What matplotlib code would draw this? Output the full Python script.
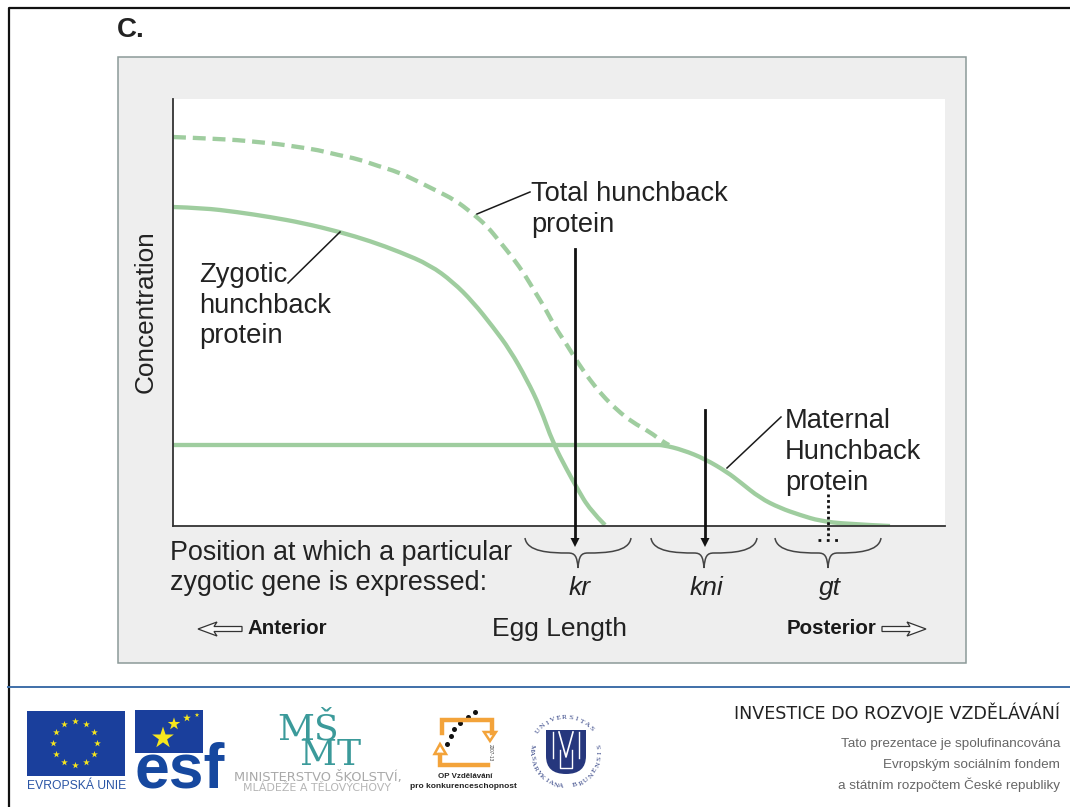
import numpy as np
import matplotlib
matplotlib.use("Agg")
import matplotlib.pyplot as plt
from matplotlib.patches import Rectangle, Polygon, PathPatch
from matplotlib.path import Path

plt.rcParams['font.family'] = ['Liberation Sans', 'DejaVu Sans']

# Curves: position along egg, concentration
total_x = [0, 24, 44, 64, 84, 105, 125, 145, 165, 185, 205, 225, 244, 262, 282, 299, 314, 327, 340, 352, 362, 372, 382, 394, 405, 417, 429, 444, 459, 477, 490, 496]
total_y = [389, 388, 387, 386, 384, 382, 379, 376, 371, 367, 360, 354, 345, 336, 326, 313, 300, 284, 268, 251, 234, 218, 199, 181, 163, 146, 131, 116, 104, 94, 84, 81]
zyg_x = [0, 30, 64, 97, 130, 167, 197, 227, 257, 280, 300, 320, 337, 354, 367, 380, 394, 404, 417, 432]
zyg_y = [319, 318, 314, 309, 303, 294, 285, 274, 261, 244, 224, 199, 176, 146, 119, 83, 56, 38, 16, 1]
mat_x = [0, 150, 300, 440, 482, 490, 510, 532, 554, 567, 587, 607, 627, 647, 674, 717]
mat_y = [81, 81, 81, 81, 81, 81, 76, 67, 54, 44, 28, 18, 11, 5, 2, 0]

gene_labels = ['kr', 'kni', 'gt']
gene_centers = [405, 531, 655]

W, H = 1070, 807
fig = plt.figure(figsize=(W/100, H/100), dpi=100, facecolor='white')

bg = fig.add_axes([0, 0, 1, 1])
bg.set_xlim(0, W); bg.set_ylim(H, 0); bg.axis('off')

# slide border and panel
bg.plot([8.5, 8.5, W], [H, 7.5, 7.5], color='#111111', lw=1.6)
bg.plot([8, W], [686.5, 686.5], color='#3f6fa8', lw=1.4)
bg.add_patch(Rectangle((118, 57), 848, 606, fc='#eeeeee', ec='#8c9a98', lw=1.1))
bg.text(117, 30, 'C.', fontsize=20, fontweight='bold', color='#222222', va='center')

# data axes
ax = fig.add_axes([173/W, 1-526/H, 772/W, 427/H], zorder=2)
ax.set_xlim(0, 772); ax.set_ylim(0, 427)
ax.set_facecolor('white')
for s in ['top', 'right']:
    ax.spines[s].set_visible(False)
for s in ['left', 'bottom']:
    ax.spines[s].set_color('#333333'); ax.spines[s].set_linewidth(1.3)
ax.set_xticks([]); ax.set_yticks([])
GREEN = '#9fcd9f'

def curve(xs, ys, **kw):
    pts = np.column_stack([xs, ys])
    verts = [pts[0]]; codes = [Path.MOVETO]
    for i in range(1, len(pts) - 1):
        end = (pts[i] + pts[i+1]) / 2 if i < len(pts) - 2 else pts[-1]
        verts += [pts[i], end]; codes += [Path.CURVE3, Path.CURVE3]
    ax.add_patch(PathPatch(Path(verts, codes), fc='none', ec=GREEN, lw=3.1, capstyle='butt', **kw))

curve(total_x, total_y, ls=(0, (3.0, 1.6)))
curve(zyg_x, zyg_y)
curve(mat_x, mat_y)

# overlay
ov = fig.add_axes([0, 0, 1, 1], zorder=3)
ov.set_xlim(0, W); ov.set_ylim(H, 0); ov.axis('off'); ov.patch.set_alpha(0)
TC = '#222222'
ov.text(146, 312, 'Concentration', rotation=90, ha='center', va='center', fontsize=18.8, color=TC)
for x, y, s, fs in [(199, 275, 'Zygotic', 19.7), (199, 306, 'hunchback', 19.7), (199, 336, 'protein', 19.7),
                    (531, 194, 'Total hunchback', 19.6), (531, 225, 'protein', 19.6),
                    (785, 421, 'Maternal', 19.6), (785, 452, 'Hunchback', 19.6), (785, 483, 'protein', 19.6),
                    (170, 553, 'Position at which a particular', 19.4),
                    (170, 583, 'zygotic gene is expressed:', 19.4)]:
    ov.text(x, y, s, fontsize=fs, color=TC, va='center')
ov.text(559, 629, 'Egg Length', fontsize=19, color=TC, va='center', ha='center')
ov.text(287, 629, 'Anterior', fontsize=14.8, fontweight='bold', color='#1a1a1a', va='center', ha='center')
ov.text(831, 629, 'Posterior', fontsize=14.8, fontweight='bold', color='#1a1a1a', va='center', ha='center')

# leader lines
for xs, ys in [([288, 340], [283, 232]), ([477, 530], [214, 192]), ([727, 781], [468, 417])]:
    ov.plot(xs, ys, color='#1a1a1a', lw=1.1)

# arrows
for x, y0, y1 in [(575, 249, 547), (705, 410, 547)]:
    ov.plot([x, x], [y0, y1-8], color='#111111', lw=2.0)
    ov.add_patch(Polygon([[x-4.5, y1-9], [x+4.5, y1-9], [x, y1]], fc='#111111', ec='none'))
ov.plot([828, 828], [494, 537], color='#111111', lw=2, ls=(0, (1, 1)))
ov.plot([818, 842], [540, 540], color='#111111', lw=2, ls=(0, (1, 2)))

# braces
for c, lab in zip(gene_centers, gene_labels):
    cx = 173 + c
    verts = [(cx-53, 538), (cx-51, 552), (cx-28, 553), (cx-10, 553),
             (cx-3, 553), (cx-1, 556), (cx, 568),
             (cx+1, 556), (cx+3, 553), (cx+10, 553),
             (cx+28, 553), (cx+51, 552), (cx+53, 538)]
    codes = [Path.MOVETO] + [Path.CURVE4]*12
    ov.add_patch(PathPatch(Path(verts, codes), fc='none', ec='#444444', lw=1.1))
    ov.text(cx+2, 588, lab, fontsize=19, style='italic', color=TC, ha='center', va='center')

# hollow arrows
def hollow(x0, x1, y=629):
    d = 1 if x1 > x0 else -1
    x2 = x1 - d*16
    pts = [[x0, y-2.5], [x2, y-2.5], [x2-d*3, y-7], [x1, y], [x2-d*3, y+7], [x2, y+2.5], [x0, y+2.5]]
    ov.add_patch(Polygon(pts, closed=True, fc='#f8f8f8', ec='#333333', lw=0.9))
hollow(242, 198)
hollow(882, 926)

# footer: EU flag
BLUE = '#1a3f9c'
YEL = '#f6e61e'
ov.add_patch(Rectangle((27, 711), 98, 65, fc=BLUE, ec='none'))
ang = np.deg2rad(np.arange(0, 360, 30))
ov.scatter(75+22*np.sin(ang), 743-22*np.cos(ang), marker='*', s=26, c=YEL, linewidths=0)
ov.text(77, 786, 'EVROPSKÁ UNIE', fontsize=8.7, color='#2a55a5', ha='center', va='center')

# ESF logo
ov.add_patch(Rectangle((135, 710), 68, 43, fc=BLUE, ec='none'))
ov.scatter([163, 174, 187, 197], [738, 724, 718, 715], marker='*', s=[270, 90, 35, 12], c=YEL, linewidths=0)
ov.text(180, 788, 'esf', fontsize=45, fontweight='bold', color='#16489f', ha='center', va='baseline')

# MSMT logo
ov.text(277, 712, 'MŠ\n  MT', fontsize=26, color='#3b9a9a', ha='left', va='top', family='DejaVu Serif',
        linespacing=0.72)
ov.text(318, 777, 'MINISTERSTVO ŠKOLSTVÍ,', fontsize=9.4, color='#a9a9a9', ha='center', va='center', family='DejaVu Sans')
ov.text(317, 788, 'MLÁDEŽE A TĚLOVÝCHOVY', fontsize=7.9, color='#b5b5b5', ha='center', va='center', family='DejaVu Sans')

# OP logo
OR = '#f3a33a'
ov.plot([442, 442, 492, 492], [733, 720, 720, 733], color=OR, lw=3.2, solid_joinstyle='miter')
ov.plot([440, 440, 488], [755, 765, 765], color=OR, lw=3.2, solid_joinstyle='miter')
ov.add_patch(Polygon([[434.5, 754], [446, 754], [440, 744]], fc='white', ec=OR, lw=1.8))
ov.add_patch(Polygon([[484, 732], [496, 732], [490, 741]], fc='white', ec=OR, lw=1.8))
ov.scatter([475, 468, 460, 454, 451, 447], [712, 717, 723, 729, 736, 744], s=13, c='#111111', linewidths=0)
ov.text(490, 753, '2007-13', fontsize=3.4, rotation=270, color='#444444', ha='center', va='center')
ov.text(465, 776, 'OP Vzdělávání', fontsize=5.7, fontweight='bold', color='#222222', ha='center', va='center')
ov.text(463, 786, 'pro konkurenceschopnost', fontsize=6.0, fontweight='bold', color='#222222', ha='center', va='center')

# University seal
SEAL = '#26377d'
cx, cy = 566, 752
shield = Path([(cx-20, cy-22), (cx+20, cy-22), (cx+20, cy+4), (cx+20, cy+22), (cx, cy+22),
               (cx-20, cy+22), (cx-20, cy+4), (cx-20, cy-22)],
              [Path.MOVETO, Path.LINETO, Path.LINETO, Path.CURVE3, Path.CURVE3, Path.CURVE3, Path.CURVE3, Path.LINETO])
ov.add_patch(PathPatch(shield, fc=SEAL, ec='none'))
ov.plot([cx-13, cx-13], [cy-20, cy+6], color='white', lw=1.0)
ov.plot([cx+13, cx+13], [cy-20, cy+6], color='white', lw=1.0)
ov.plot([cx-7, cx, cx+7], [cy-20, cy+5, cy-20], color='white', lw=1.2)
ov.plot([cx-6, cx-6, cx+6, cx+6], [cy-2, cy+16, cy+16, cy-2], color='white', lw=1.0)
def ring(text, a0, a1, r, flip):
    angs = np.linspace(a0, a1, len(text))
    for ch, a in zip(text, angs):
        t = np.deg2rad(a)
        x, y = cx + r*np.sin(t), cy - r*np.cos(t)
        ov.text(x, y, ch, fontsize=5.4, family='Liberation Serif', color=SEAL, ha='center', va='center',
                rotation=-a + (180 if flip else 0), rotation_mode='anchor')
ring('UNIVERSITAS', -52, 47, 34.5, False)
ring('MASARYKIANA', -82, -172, 34.5, True)
ring('BRUNENSIS', 165, 80, 34.5, True)

# right footer text
ov.text(1060, 713, 'INVESTICE DO ROZVOJE VZDĚLÁVÁNÍ', fontsize=12.6, color='#222222', ha='right', va='center', family='DejaVu Sans')
for y, s in [(744, 'Tato prezentace je spolufinancována'),
             (765, 'Evropským sociálním fondem'),
             (785, 'a státním rozpočtem České republiky')]:
    ov.text(1060, y, s, fontsize=9.7, color='#666666', ha='right', va='center')

fig.savefig('out.png', dpi=100, facecolor='white')
